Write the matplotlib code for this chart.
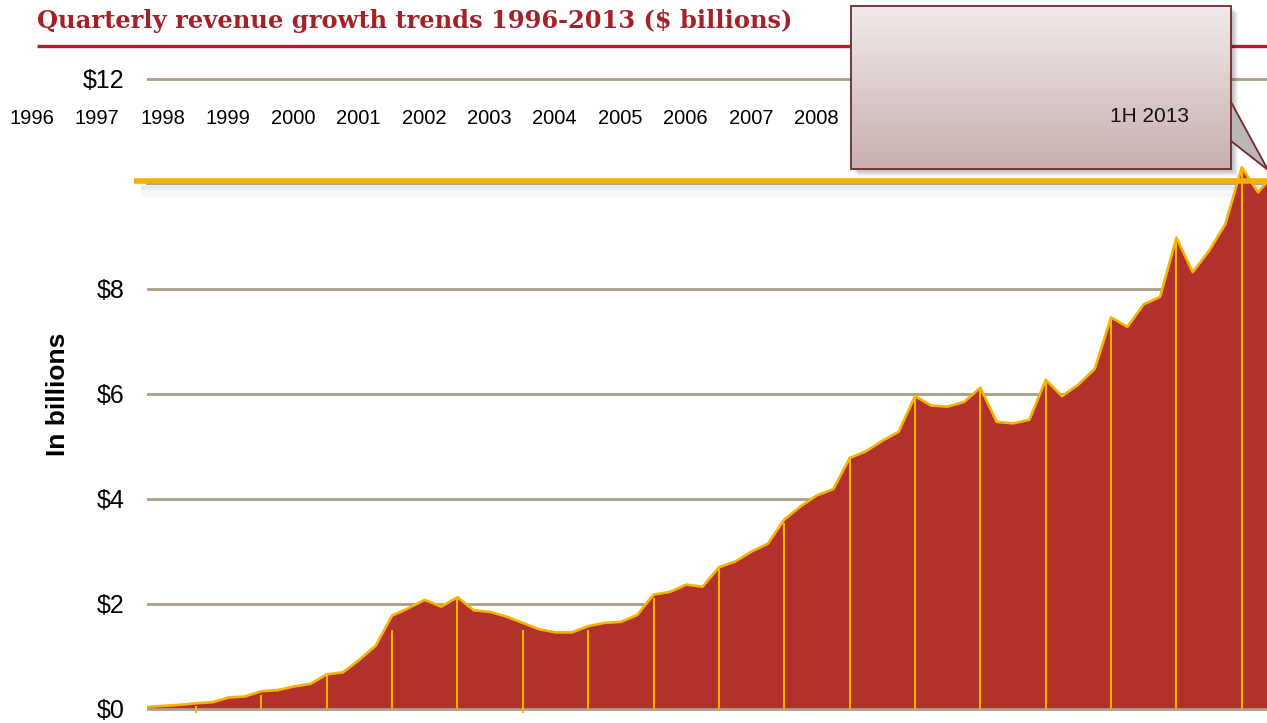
import numpy as np
import matplotlib
matplotlib.use('Agg')
import matplotlib.pyplot as plt
from matplotlib.patches import Rectangle, Polygon

# quarterly revenue, $ billions (1996 Q1 .. 2013 Q2)
revenue = [0.03, 0.05, 0.07, 0.10, 0.12, 0.21, 0.23, 0.33, 0.35, 0.42,
           0.47, 0.65, 0.69, 0.93, 1.20, 1.77, 1.91, 2.07, 1.94, 2.12,
           1.87, 1.84, 1.75, 1.63, 1.51, 1.45, 1.45, 1.57, 1.63, 1.65,
           1.78, 2.17, 2.22, 2.36, 2.32, 2.69, 2.80, 2.99, 3.14, 3.60,
           3.85, 4.06, 4.18, 4.77, 4.90, 5.10, 5.27, 5.95, 5.77, 5.75,
           5.84, 6.11, 5.46, 5.43, 5.50, 6.26, 5.95, 6.17, 6.47, 7.45,
           7.27, 7.70, 7.84, 8.97, 8.31, 8.72, 9.23, 10.31, 9.83, 10.20]
quarters = np.arange(len(revenue))

# year-end drop lines (Q4 of each year) as drawn in the original
drop_q = np.arange(3, len(revenue), 4)
drop_lo = [-0.09, 0, 0, 0, 0, -0.09, 0, 0, 0, 0, 0, 0, 0, 0, 0, 0, 0]
drop_hi = [0.05, 0.26, 0.65, 1.50, 2.12, 1.50, 1.50, 2.10, 2.69, 3.54,
           4.77, 5.95, 6.11, 6.26, 7.45, 8.97, 10.31]

year_labels = [str(y) for y in range(1996, 2013)]
last_label = '1H 2013'
y_ticks = [0, 2, 4, 6, 8, 12]
y_ticklabels = ['$0', '$2', '$4', '$6', '$8', '$12']
highlight = 10.05

W, H = 1267, 723
RED = '#B3312B'
GOLD = '#F6B300'
GRID = '#A89F86'
DARK = '#A3222A'

fig = plt.figure(figsize=(W / 100, H / 100), dpi=100)
ax = fig.add_axes([147 / W, 0, 1120 / W, 1])
ax.set_xlim(0, 1120 / 16.34)
ax.set_ylim(-(H - 708.5) / 52.5, 708.5 / 52.5)
for s in ax.spines.values():
    s.set_visible(False)
ax.set_xticks([])
ax.set_yticks(y_ticks)
ax.set_yticklabels(y_ticklabels, fontsize=18, fontfamily='Liberation Sans')
ax.tick_params(axis='y', length=0, pad=16)

for v in y_ticks:
    ax.axhline(v, color=GRID, lw=2, zorder=1 if v else 3)

# shadow and gold line at $10
ax.plot([0, 70], [highlight - 0.06] * 2, color='#8C8C8C', lw=1.2,
        zorder=1.6, clip_on=False)
for i in range(12):
    ax.plot([-0.3, 70], [highlight - 0.09 - i * 0.022] * 2, color='black',
            alpha=0.05 * (1 - i / 12), lw=1.3, zorder=1.5, clip_on=False)
ax.plot([-0.8, 70], [highlight, highlight], color='#F5B000', lw=4,
        zorder=5, clip_on=False, solid_capstyle='butt')

ax.fill_between(quarters, revenue, 0, color=RED, lw=0, zorder=2)
ax.plot(quarters, revenue, color=GOLD, lw=1.9, zorder=4)
ax.vlines(drop_q, drop_lo, drop_hi, color=GOLD, lw=1.5, zorder=4)

ax.set_ylabel('In billions', fontsize=19, fontweight='bold',
              fontfamily='Liberation Sans')
ax.yaxis.set_label_coords(-(147 - 70) / 1120, (H - 394) / H)

yl = (708.5 - 118) / 52.5
for i, lab in enumerate(year_labels):
    ax.text(4 * i - 7.05, yl, lab, ha='center', va='center', fontsize=14.5,
            fontfamily='Liberation Sans', clip_on=False, zorder=3)

# overlay in pixel coordinates for the title and callout
ov = fig.add_axes([0, 0, 1, 1], zorder=5)
ov.axis('off')
ov.patch.set_alpha(0)

ov.text(37, 21, 'Quarterly revenue growth trends 1996-2013 ($ billions)',
        ha='left', va='center', fontsize=17.4, fontweight='bold',
        fontfamily='DejaVu Serif', color=DARK)
ov.plot([37, W], [46, 46], color='#A8232A', lw=2.4, solid_capstyle='butt')

bx, by, bw, bh = 851, 6, 380, 163
for i in range(7):
    ov.add_patch(Rectangle((bx + 1 + i, by + 1 + i), bw, bh, facecolor='black',
                           edgecolor='none', alpha=0.045, zorder=2))
tip = (1268, 170)
ov.add_patch(Polygon([(bx + bw, 102), tip, (bx + bw, 141)], closed=True,
                     facecolor='#BDB6B6', edgecolor='none', zorder=2.5))
top = np.array([0xF1, 0xEA, 0xEA]) / 255
bot = np.array([0xC8, 0xAF, 0xAE]) / 255
t = np.linspace(0, 1, 200)[:, None, None]
grad = top * (1 - t) + bot * t
ov.imshow(grad, extent=(bx, bx + bw, by + bh, by), aspect='auto',
          interpolation='bilinear', zorder=3)
ov.add_patch(Rectangle((bx, by), bw, bh, fill=False, edgecolor='#6E2B2B',
                       lw=1.3, zorder=4))
ov.plot([bx + bw, tip[0]], [102, tip[1]], color='#6E2B2B', lw=1.3, zorder=4)
ov.plot([bx + bw, tip[0]], [141, tip[1]], color='#6E2B2B', lw=1.3, zorder=4)
ov.text(1150, 117, last_label, ha='center', va='center', fontsize=15,
        fontfamily='Liberation Sans', color='#111111', zorder=5)
ov.set_xlim(0, W)
ov.set_ylim(H, 0)

fig.savefig('out.png', dpi=100)
